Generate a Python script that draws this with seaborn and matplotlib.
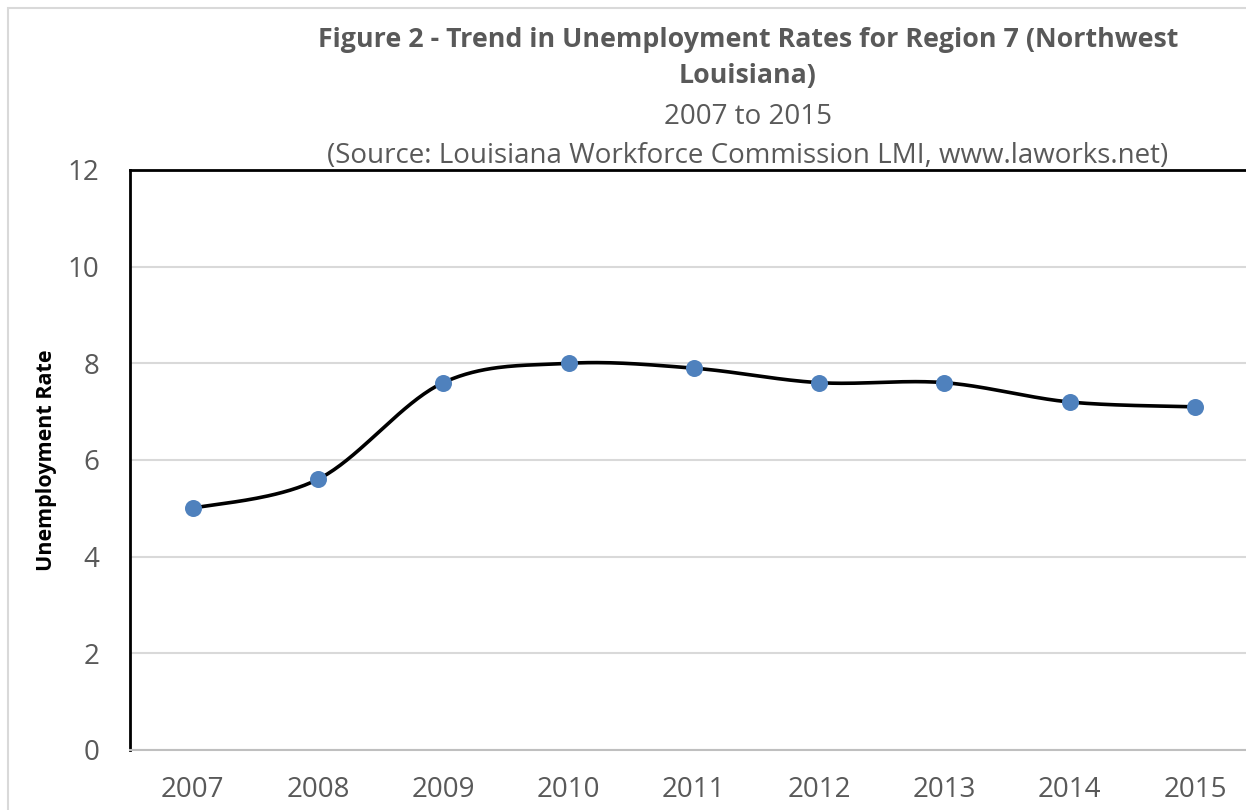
import numpy as np
import pandas as pd
import matplotlib
matplotlib.use("Agg")
import matplotlib.pyplot as plt
from matplotlib.patches import Rectangle
import seaborn as sns

years = ["2007", "2008", "2009", "2010", "2011", "2012", "2013", "2014", "2015"]
rates = [5.0, 5.6, 7.6, 8.0, 7.9, 7.6, 7.6, 7.2, 7.1]
y_ticks = [0, 2, 4, 6, 8, 10, 12]

title_lines = ["Figure 2 - Trend in Unemployment Rates for Region 7 (Northwest",
               "Louisiana)", "2007 to 2015",
               "(Source: Louisiana Workforce Commission LMI, www.laworks.net)"]
y_label = "Unemployment Rate"

sns.set_theme(style="white")
plt.rcParams['font.family'] = ['Open Sans', 'DejaVu Sans']

fig = plt.figure(figsize=(12.46, 8.10), dpi=100)
ax = fig.add_axes([130/1246, 60/810, 1127.6/1246, 580/810])

df = pd.DataFrame({"pos": np.arange(len(years)), "rate": rates})

# smooth line (Catmull-Rom style Bezier, like Excel's smoothed line)
xs = df["pos"].to_numpy(float)
ys = df["rate"].to_numpy(float)
cx, cy = [], []
n = len(xs)
for i in range(n - 1):
    p0 = np.array([xs[max(i-1, 0)], ys[max(i-1, 0)]])
    p1 = np.array([xs[i], ys[i]])
    p2 = np.array([xs[i+1], ys[i+1]])
    p3 = np.array([xs[min(i+2, n-1)], ys[min(i+2, n-1)]])
    c1 = p1 + (p2 - p0) / 6.0
    c2 = p2 - (p3 - p1) / 6.0
    t = np.linspace(0, 1, 40)[:, None]
    pts = ((1-t)**3)*p1 + 3*((1-t)**2)*t*c1 + 3*(1-t)*t**2*c2 + t**3*p2
    cx.extend(pts[:, 0]); cy.extend(pts[:, 1])
ax.plot(cx, cy, color="black", lw=2.6, zorder=3, solid_capstyle="round")

sns.scatterplot(data=df, x="pos", y="rate", ax=ax, s=150, color="#4f81bd",
                edgecolor="#4f81bd", linewidth=0, zorder=4, legend=False)

ax.set_xlim(-0.5, len(years) - 0.5)
ax.set_ylim(0, 12)
ax.set_xticks(df["pos"])
ax.set_xticklabels(years)
ax.set_yticks(y_ticks)
ax.set_yticklabels([str(v) for v in y_ticks])
ax.tick_params(axis="both", length=0, labelsize=20, colors="#595959")
ax.tick_params(axis="y", pad=22)
ax.tick_params(axis="x", pad=19)
ax.yaxis.grid(True, color="#d9d9d9", lw=1.5)
ax.set_axisbelow(True)
ax.set_xlabel("")
ax.set_ylabel(y_label, fontsize=15.5, fontweight="bold", color="black", labelpad=8)

for s in ["left", "top"]:
    ax.spines[s].set_color("black")
    ax.spines[s].set_linewidth(2)
ax.spines["bottom"].set_color("#bfbfbf")
ax.spines["bottom"].set_linewidth(1.5)
ax.spines["right"].set_visible(False)

cxf = 748/1246
fig.text(cxf, 1-40/810, title_lines[0], ha="center", va="center", fontsize=19.3,
         fontweight="bold", color="#595959")
fig.text(cxf, 1-76/810, title_lines[1], ha="center", va="center", fontsize=19.3,
         fontweight="bold", color="#595959")
fig.text(cxf, 1-117/810, title_lines[2], ha="center", va="center", fontsize=20,
         color="#595959")
fig.text(cxf, 1-156/810, title_lines[3], ha="center", va="center", fontsize=20,
         color="#595959")

fig.patches.append(Rectangle((8/1246, -0.1), 1.2, 1.1 - 8/810, transform=fig.transFigure,
                             fill=False, edgecolor="#d9d9d9", lw=1.5, zorder=0))

fig.savefig("out.png", dpi=100)
